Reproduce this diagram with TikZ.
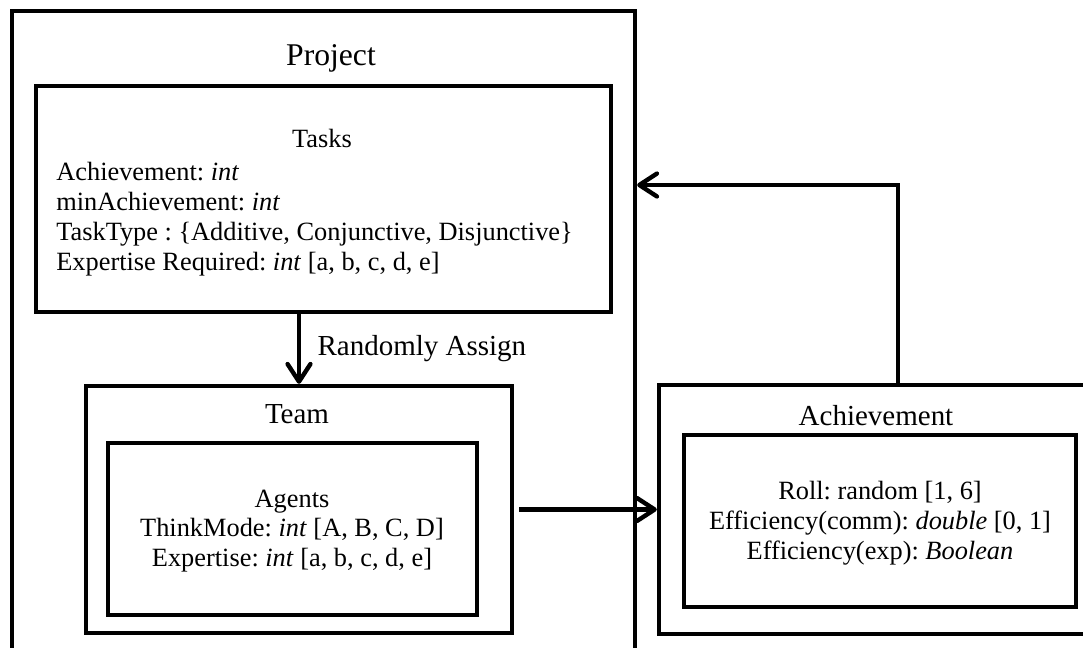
\documentclass[tikz,border=0pt]{standalone}
\usepackage{fontspec}
\setmainfont{Liberation Serif}
\usetikzlibrary{arrows.meta}
\frenchspacing

\begin{document}
\begin{tikzpicture}[
  x=0.02cm, y=-0.02cm,
  box/.style={draw, line width=2.5pt, inner sep=0pt},
  ttl/.style={font=\fontsize{16.5}{18}\selectfont, anchor=base, inner sep=0pt},
  txt/.style={font=\fontsize{15}{17}\selectfont, inner sep=0pt},
  arr/.style={line width=2.5pt, -{Straight Barb[length=10pt, width=13pt, round]}}
]
\useasboundingbox (0,0) rectangle (1083,647);
\clip (0,0) rectangle (1083,647);

% outer and inner boxes
\node[box, minimum width=12.46cm, minimum height=13.18cm] (project) at (323.5,340.5) {};
\node[box, minimum width=11.5cm, minimum height=4.52cm] (tasks) at (323.5,199) {};
\node[box, minimum width=8.52cm, minimum height=4.94cm] (team) at (299,509.5) {};
\node[box, minimum width=7.38cm, minimum height=3.44cm] (agents) at (292.5,529) {};
\node[box, minimum width=8.82cm, minimum height=4.98cm] (achv) at (879.5,509.5) {};
\node[box, minimum width=7.84cm, minimum height=3.44cm] (achvin) at (880,521) {};

% titles
\node[ttl, font=\fontsize{18}{20}\selectfont] (projttl) at (331,65) {Project};
\node[ttl] (teamttl) at (297,423) {Team};
\node[ttl] (achvttl) at (876,425) {Achievement};

% contents
\node[txt, anchor=base] (tasksttl) at (322,147) {Tasks};
\node[txt, anchor=north west, align=left] (taskslist) at (56,162) {%
  Achievement: \textit{int}\\
  minAchievement: \textit{int}\\
  TaskType : \{Additive, Conjunctive, Disjunctive\}\\
  Expertise Required: \textit{int} [a, b, c, d, e]};
\node[txt, align=center] (agentstxt) at (292,531) {%
  Agents\\
  ThinkMode: \textit{int} [A, B, C, D]\\
  Expertise: \textit{int} [a, b, c, d, e]};
\node[txt, align=center] (achvtxt) at (880,523) {%
  Roll: random [1, 6]\\
  Efficiency(comm): \textit{double} [0, 1]\\
  Efficiency(exp): \textit{Boolean}};

% connectors
\draw[arr] (team.north |- tasks.south) -- (team.north)
  node[midway, right, font=\fontsize{16.5}{18}\selectfont, xshift=6pt] (assign) {Randomly Assign};
\draw[arr, shorten <=3pt] (team.east) -- (team.east -| achv.west);
\coordinate (fb) at (898,185);
\draw[arr] (fb |- achv.north) -- (fb) -- (fb -| project.east);
\end{tikzpicture}
\end{document}
